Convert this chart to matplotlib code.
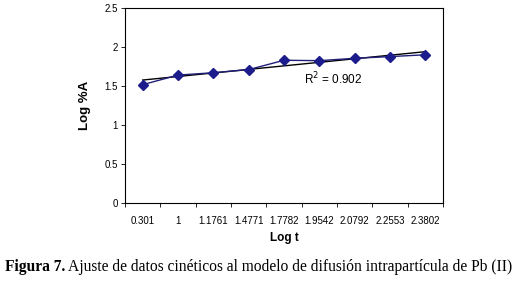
import numpy as np
import matplotlib.pyplot as plt

# categories on x (Log t) and measured Log %A
log_t = ["0.301", "1", "1.1761", "1.4771", "1.7782", "1.9542", "2.0792", "2.2553", "2.3802"]
log_a = [1.517, 1.64, 1.67, 1.71, 1.83, 1.825, 1.855, 1.877, 1.90]
y_ticks = [0, 0.5, 1, 1.5, 2, 2.5]
r2_label = "R$^2$ = 0.902"

plt.rcParams['font.family'] = ['Liberation Sans', 'DejaVu Sans']

fig = plt.figure(figsize=(5.2, 2.81), dpi=100)
ax = fig.add_axes([125 / 520, 1 - 203 / 281, 318 / 520, 195 / 281])

idx = np.arange(len(log_t))
ax.plot(idx, log_a, color='#1f1f7a', lw=1.0, marker='D', ms=5,
        markerfacecolor='#1c1c8c', markeredgecolor='#1c1c8c', zorder=3)

# linear trend line (Excel style, fitted on category position)
coef = np.polyfit(idx + 1, log_a, 1)
ax.plot(idx, np.polyval(coef, idx + 1), color='black', lw=1.0, zorder=2)

ax.text(0.563, 0.637, r2_label, transform=ax.transAxes, fontsize=8.5, va='center')

ax.set_xlim(-0.5, len(log_t) - 0.5)
ax.set_ylim(0, 2.5)
ax.set_yticks(y_ticks)
ax.set_yticklabels([f"{v:g}" for v in y_ticks])
ax.set_xticks(idx)
ax.set_xticklabels(log_t)
ax.set_xticks(np.arange(-0.5, len(log_t)), minor=True)
ax.tick_params(axis='x', which='major', length=0, pad=9, labelsize=7)
ax.tick_params(axis='x', which='minor', length=3, width=0.6)
ax.tick_params(axis='y', length=3, width=0.6, labelsize=7, pad=2)
for s in ax.spines.values():
    s.set_linewidth(0.8)

ax.set_xlabel("Log t", fontsize=8.5, fontweight='bold', labelpad=5)
ax.set_ylabel("Log %A", fontsize=9.5, fontweight='bold', labelpad=10)

# caption
cap1 = fig.text(0.01, 1 - 271 / 281, "Figura 7.", fontsize=11.2, fontweight='bold',
                family='Liberation Serif', va='baseline')
ax.annotate(" Ajuste de datos cinéticos al modelo de difusión intrapartícula de Pb (II)",
            xy=(1, 0), xycoords=cap1, va='bottom', ha='left', fontsize=11.2,
            family='Liberation Serif', annotation_clip=False)

fig.savefig("out.png", dpi=100)
